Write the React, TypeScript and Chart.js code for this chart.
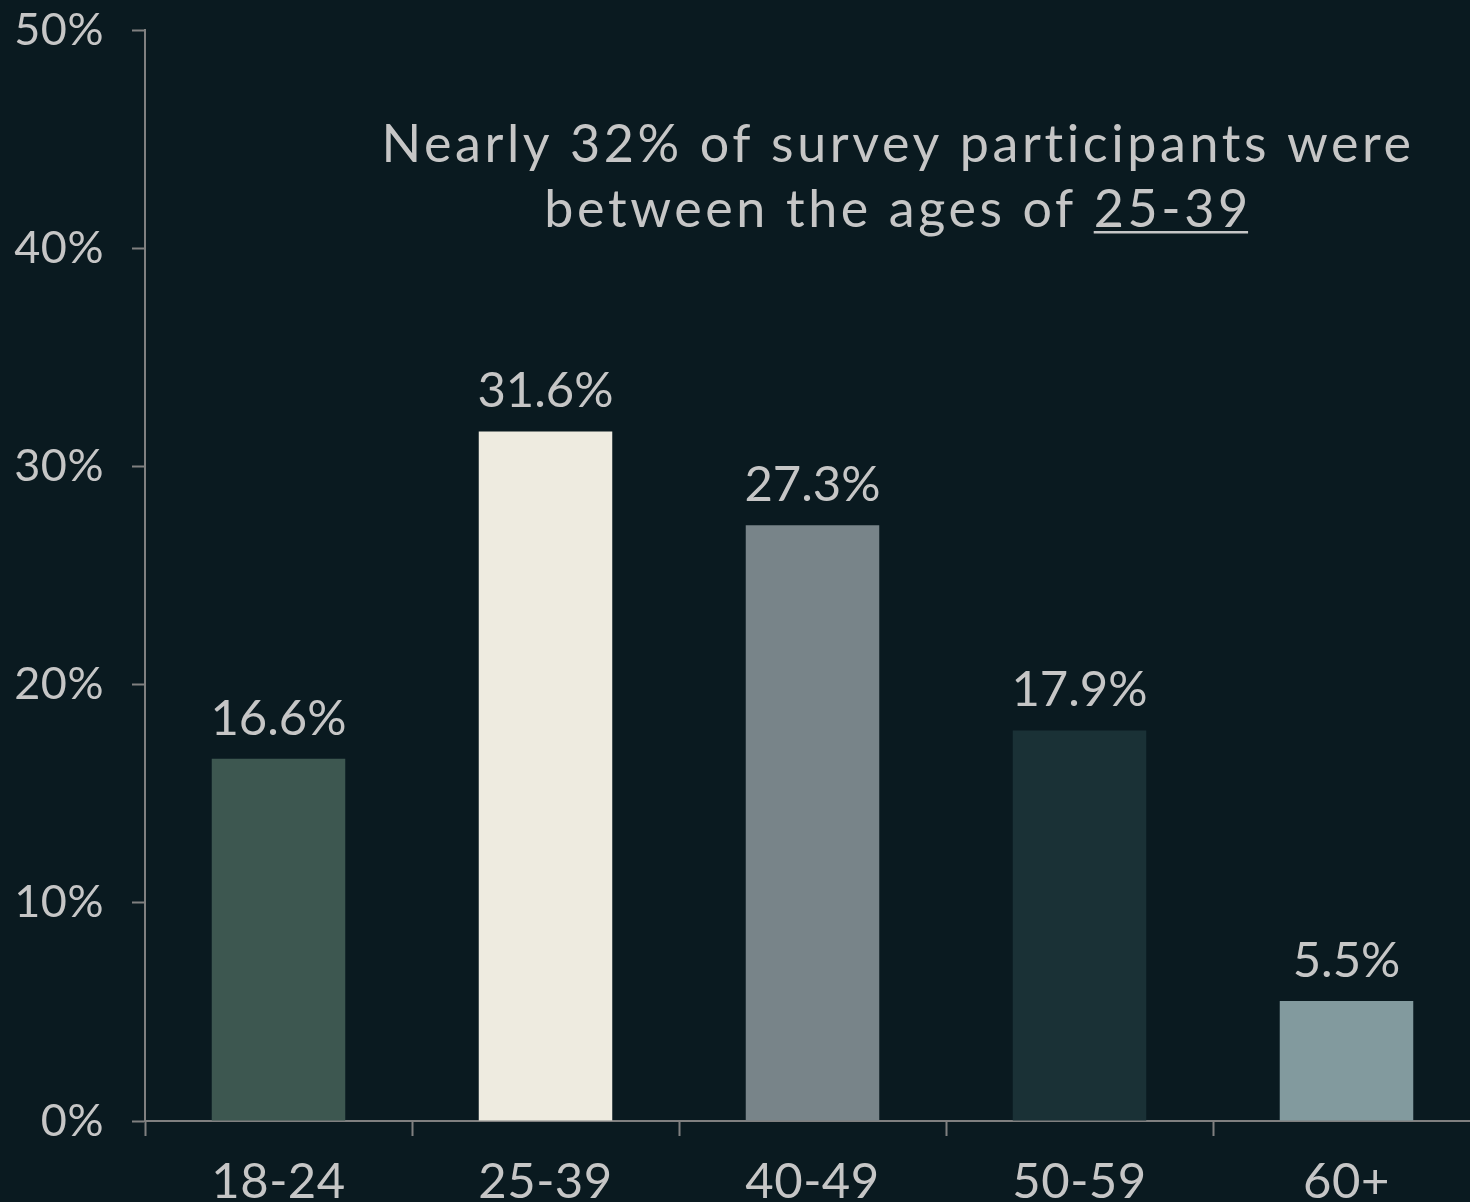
import React, { useEffect, useRef } from "react";
import { Chart, registerables } from "chart.js";

Chart.register(...registerables);

const categories = ["18-24", "25-39", "40-49", "50-59", "60+"];
const shares = [16.6, 31.6, 27.3, 17.9, 5.5];
const barColors = ["#3d5750", "#eeebe0", "#788489", "#1a3136", "#829a9e"];
const yTicks = [0, 10, 20, 30, 40, 50];
const titleLine1 = "Nearly 32% of survey participants were";
const titleLine2Lead = "between the ages of ";
const titleLine2Key = "25-39";

const BG = "#0a1a20";
const TEXT = "#c6c6c6";
const AXIS = "#808080";
const FONT = "Lato";
const W = 1490;
const H = 1202;

export default function App() {
  const ref = useRef<HTMLCanvasElement | null>(null);

  useEffect(() => {
    const canvas = ref.current;
    if (!canvas) return;

    const overlay = {
      id: "overlay",
      beforeDraw(chart: any) {
        const ctx = chart.ctx;
        ctx.save();
        ctx.fillStyle = BG;
        ctx.fillRect(0, 0, chart.width, chart.height);
        ctx.restore();
        try { ctx.letterSpacing = "0.5px"; } catch (e) {}
      },
      afterDraw(chart: any) {
        const ctx = chart.ctx;
        ctx.save();
        try { ctx.letterSpacing = "0px"; } catch (e) {}
        ctx.fillStyle = TEXT;
        // data labels
        ctx.font = `49px ${FONT}`;
        ctx.textAlign = "center";
        ctx.textBaseline = "alphabetic";
        const meta = chart.getDatasetMeta(0);
        meta.data.forEach((bar: any, i: number) => {
          ctx.fillText(shares[i].toFixed(1) + "%", bar.x, bar.y - 24);
        });
        // title
        try { ctx.letterSpacing = "3.6px"; } catch (e) {}
        const cx = 898;
        ctx.font = `52px ${FONT}`;
        ctx.fillText(titleLine1, cx, 162);
        const wLead = ctx.measureText(titleLine2Lead).width;
        const wKey = ctx.measureText(titleLine2Key).width;
        const start = cx - (wLead + wKey) / 2;
        ctx.textAlign = "left";
        ctx.fillText(titleLine2Lead, start, 227);
        ctx.fillText(titleLine2Key, start + wLead, 227);
        ctx.fillRect(start + wLead, 231, wKey - 3.6, 2.5);
        ctx.restore();
      },
    };

    const chart = new Chart(canvas, {
      type: "bar",
      data: {
        labels: categories,
        datasets: [
          {
            data: shares,
            backgroundColor: barColors,
            borderWidth: 0,
            barPercentage: 0.5,
            categoryPercentage: 1,
          },
        ],
      },
      options: {
        responsive: false,
        animation: false,
        devicePixelRatio: 1,
        layout: { padding: { top: 30, right: W - 1480, bottom: 0, left: 0 } },
        plugins: {
          legend: { display: false },
          tooltip: { enabled: false },
          title: { display: false },
        },
        scales: {
          x: {
            grid: {
              display: true,
              drawOnChartArea: false,
              drawTicks: true,
              tickLength: 15,
              tickWidth: 2,
              tickColor: AXIS,
              offset: true,
            },
            border: { display: true, color: AXIS, width: 2 },
            ticks: {
              color: TEXT,
              font: { family: FONT, size: 49 },
              padding: 17,
              maxRotation: 0,
              autoSkip: false,
            },
            afterFit(scale: any) {
              scale.height = H - 1121;
              scale.paddingLeft = 0;
              scale.paddingRight = 0;
            },
          },
          y: {
            min: 0,
            max: 50,
            afterBuildTicks(scale: any) {
              scale.ticks = yTicks.map((v) => ({ value: v }));
            },
            grid: {
              display: true,
              drawOnChartArea: false,
              drawTicks: true,
              tickLength: 13,
              tickWidth: 2,
              tickColor: AXIS,
            },
            border: { display: true, color: AXIS, width: 2 },
            ticks: {
              color: TEXT,
              font: { family: FONT, size: 45 },
              padding: 28,
              callback: (v: any) => v + "%",
            },
            afterFit(scale: any) {
              scale.width = 145;
              scale.paddingTop = 0;
              scale.paddingBottom = 0;
            },
          },
        },
      },
      plugins: [overlay],
    });

    return () => chart.destroy();
  }, []);

  return (
    <div
      style={{
        position: "fixed",
        left: 0,
        top: 0,
        width: 1470,
        height: 1202,
        overflow: "hidden",
        background: BG,
      }}
    >
      <canvas ref={ref} width={W} height={H} style={{ display: "block", width: W, height: H }} />
    </div>
  );
}
